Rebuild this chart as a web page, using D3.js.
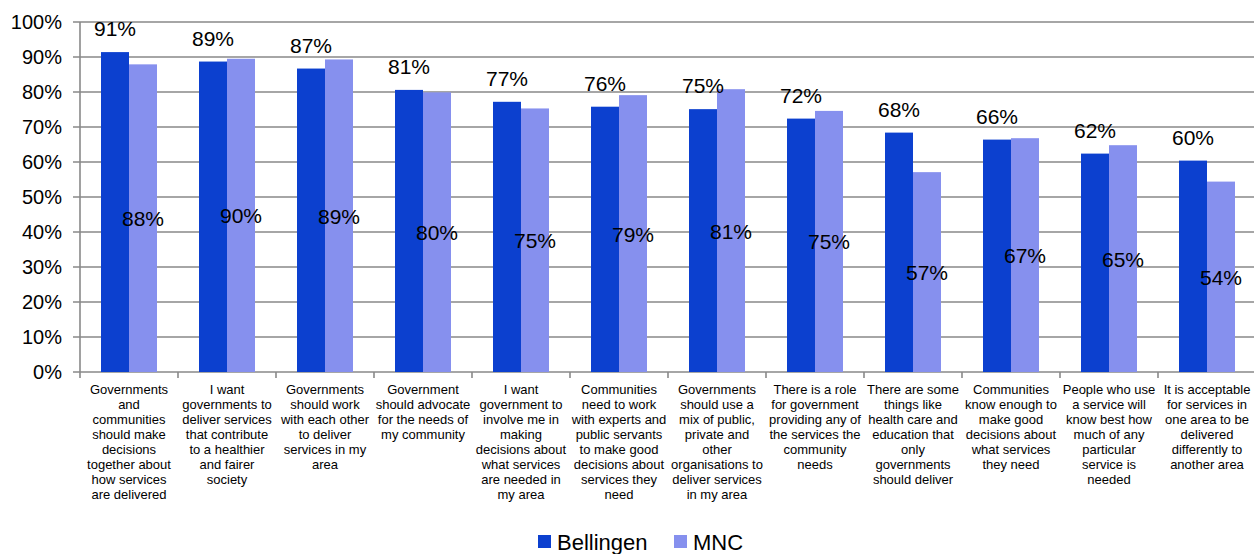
<html lang="en">
<head>
<meta charset="UTF-8">
<title>Bellingen vs MNC</title>
<script src="https://cdn.jsdelivr.net/npm/d3@7"></script>
<style>
html,body {margin:0;padding:0;background:#fff;}
svg {display:block;font-family:"Liberation Sans",Arial,sans-serif;}
.grid line {stroke:#898989;stroke-width:1.6;}
.tick-y text {font-size:20px;fill:#000;}
.val {font-size:21px;fill:#000;}
.cat {font-size:13px;fill:#000;}
.legend text {font-size:22px;fill:#000;}
</style>
</head>
<body>
<div id="chart"></div>
<script>
// category labels, already broken into lines as in the original
const categories = [
	["Governments","and","communities","should make","decisions","together about","how services","are delivered"],
	["I want","governments to","deliver services","that contribute","to a healthier","and fairer","society"],
	["Governments","should work","with each other","to deliver","services in my","area"],
	["Government","should advocate","for the needs of","my community"],
	["I want","government to","involve me in","making","decisions about","what services","are needed in","my area"],
	["Communities","need to work","with experts and","public servants","to make good","decisions about","services they","need"],
	["Governments","should use a","mix of public,","private and","other","organisations to","deliver services","in my area"],
	["There is a role","for government","providing any of","the services the","community","needs"],
	["There are some","things like","health care and","education that","only","governments","should deliver"],
	["Communities","know enough to","make good","decisions about","what services","they need"],
	["People who use","a service will","know best how","much of any","particular","service is","needed"],
	["It is acceptable","for services in","one area to be","delivered","differently to","another area"]
];
const bellingen = [91.4, 88.7, 86.7, 80.6, 77.2, 75.8, 75.1, 72.4, 68.4, 66.4, 62.4, 60.4];
const mnc = [87.9, 89.5, 89.3, 79.9, 75.3, 79.1, 80.8, 74.6, 57.1, 66.8, 64.8, 54.4];
const seriesNames = ["Bellingen", "MNC"];
const seriesColors = ["#0c40cf", "#8690ee"];
const yTicks = [0, 10, 20, 30, 40, 50, 60, 70, 80, 90, 100];

const W = 1254, H = 554;
const mLeft = 80, mTop = 22, plotH = 350, bandW = 98;
const plotW = bandW * categories.length;
const pct = d => Math.round(d) + '%';

const svg = d3.select('#chart').append('svg')
	.attr('width', W)
	.attr('height', H);

const x = d3.scaleBand()
	.domain(d3.range(categories.length))
	.range([mLeft, mLeft + plotW]);

const xs = d3.scaleBand()
	.domain(seriesNames)
	.range([21, 77]);

const y = d3.scaleLinear()
	.domain([0, 100])
	.range([mTop + plotH, mTop]);

// gridlines + y ticks
const grid = svg.append('g').attr('class', 'grid');
grid.selectAll('line.h')
	.data(yTicks)
	.enter().append('line')
	.attr('x1', mLeft - 7)
	.attr('x2', mLeft + plotW)
	.attr('y1', d => y(d))
	.attr('y2', d => y(d));

// y axis line
grid.append('line')
	.attr('x1', mLeft).attr('x2', mLeft)
	.attr('y1', y(100)).attr('y2', y(0) + 6);

// category boundary ticks
grid.selectAll('line.v')
	.data(d3.range(1, categories.length))
	.enter().append('line')
	.attr('x1', d => x(d)).attr('x2', d => x(d))
	.attr('y1', y(0)).attr('y2', y(0) + 6);

svg.append('g').attr('class', 'tick-y')
	.selectAll('text')
	.data(yTicks)
	.enter().append('text')
	.attr('x', 62)
	.attr('y', d => y(d) + 7)
	.attr('text-anchor', 'end')
	.text(d => d + '%');

// bars
const series = [bellingen, mnc];
series.forEach(function (vals, s) {
	svg.append('g')
		.selectAll('rect')
		.data(vals)
		.enter().append('rect')
		.attr('x', (d, i) => x(i) + xs(seriesNames[s]))
		.attr('width', xs.bandwidth())
		.attr('y', d => y(d))
		.attr('height', d => y(0) - y(d))
		.attr('fill', seriesColors[s]);
});

// labels: Bellingen above the bar, MNC in the middle of the bar
svg.append('g')
	.selectAll('text')
	.data(bellingen)
	.enter().append('text')
	.attr('class', 'val')
	.attr('x', (d, i) => x(i) + xs('Bellingen') + xs.bandwidth() / 2)
	.attr('y', d => y(d) - 16)
	.attr('text-anchor', 'middle')
	.text(pct);

svg.append('g')
	.selectAll('text')
	.data(mnc)
	.enter().append('text')
	.attr('class', 'val')
	.attr('x', (d, i) => x(i) + xs('MNC') + xs.bandwidth() / 2)
	.attr('y', d => (y(d) + y(0)) / 2 + 8)
	.attr('text-anchor', 'middle')
	.text(pct);

// category labels
const cat = svg.append('g')
	.selectAll('text')
	.data(categories)
	.enter().append('text')
	.attr('class', 'cat')
	.attr('text-anchor', 'middle')
	.attr('x', (d, i) => x(i) + bandW / 2)
	.attr('y', 394);
cat.selectAll('tspan')
	.data(d => d)
	.enter().append('tspan')
	.attr('x', function () { return d3.select(this.parentNode).attr('x'); })
	.attr('dy', (d, i) => i === 0 ? 0 : 15)
	.text(d => d);

// legend
const legend = svg.append('g').attr('class', 'legend');
const legX = [538, 674];
seriesNames.forEach(function (n, s) {
	legend.append('rect')
		.attr('x', legX[s]).attr('y', 535)
		.attr('width', 13).attr('height', 13)
		.attr('fill', seriesColors[s]);
	legend.append('text')
		.attr('x', legX[s] + 19)
		.attr('y', 550)
		.text(n);
});
</script>
</body>
</html>
